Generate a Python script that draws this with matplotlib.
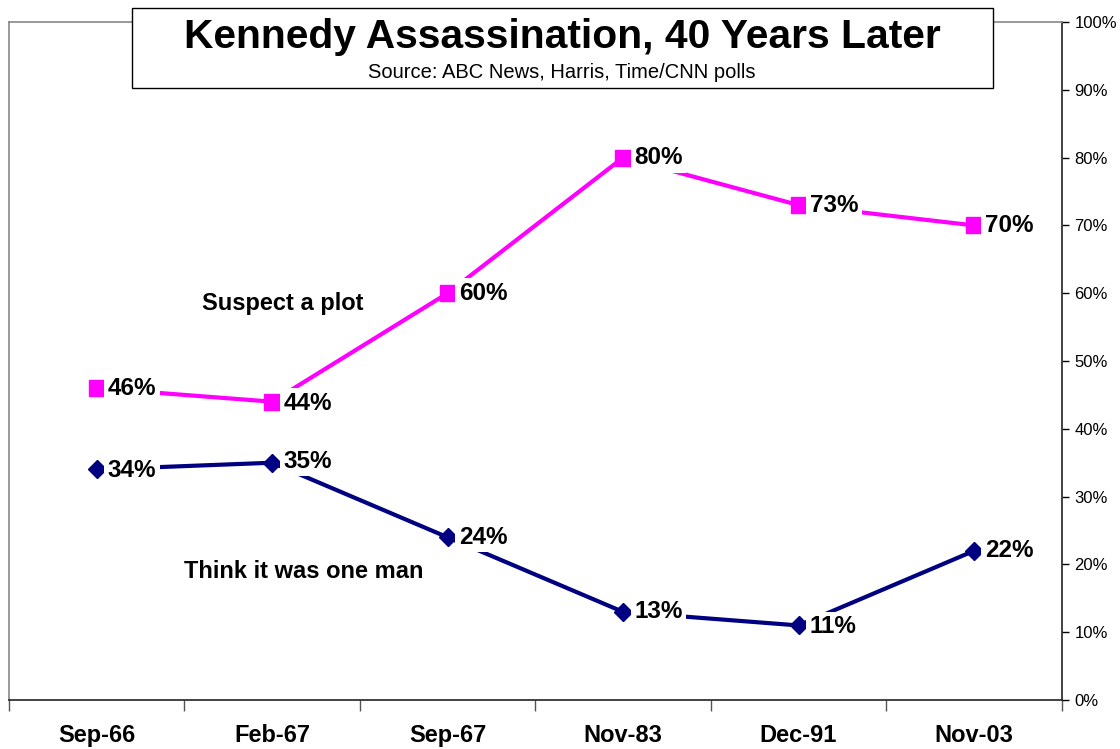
import matplotlib.pyplot as plt
from matplotlib.patches import Rectangle
import numpy as np

plt.rcParams['font.family'] = ['Liberation Sans', 'DejaVu Sans']

dates = ["Sep-66", "Feb-67", "Sep-67", "Nov-83", "Dec-91", "Nov-03"]
plot_pct = [46, 44, 60, 80, 73, 70]
one_man_pct = [34, 35, 24, 13, 11, 22]

pink = "#FF00FF"
navy = "#000080"

fig = plt.figure(figsize=(11.2, 7.49), dpi=100)
ax = fig.add_axes([0.008, 0.0654, 0.940, 0.9052])

x = np.arange(len(dates))
ax.plot(x, plot_pct, color=pink, lw=3, marker="s", ms=11, zorder=3)
ax.plot(x, one_man_pct, color=navy, lw=3, marker="D", ms=9, zorder=3)

def label(xs, ys, dy_list):
    for xi, yi, dy in zip(xs, ys, dy_list):
        ax.annotate(f"{yi}%", (xi, yi), xytext=(8, dy), textcoords="offset points",
                    ha="left", va="center", fontsize=17.5, fontweight="bold",
                    bbox=dict(boxstyle="square,pad=0.15", fc="white", ec="none"),
                    zorder=4)

label(x, plot_pct, [0, -1, 0, 0, 0, 0])
label(x, one_man_pct, [-1, 1, 0, 0, -1, 0])

ax.text(1.06, 58.5, "Suspect a plot", fontsize=17, fontweight="bold",
        ha="center", va="center")
ax.text(1.18, 19, "Think it was one man", fontsize=17, fontweight="bold",
        ha="center", va="center")

ax.set_xlim(-0.5, len(dates) - 0.5)
ax.set_ylim(0, 100)

ax.yaxis.tick_right()
ax.set_yticks(np.arange(0, 101, 10))
ax.set_yticklabels([f"{v}%" for v in range(0, 101, 10)], fontsize=12)
ax.tick_params(axis="y", direction="out", length=5, width=1, pad=4)

ax.set_xticks(x)
ax.set_xticklabels(dates, fontsize=17, fontweight="bold")
ax.tick_params(axis="x", which="major", length=0, pad=17)
ax.set_xticks(np.arange(-0.5, len(dates), 1), minor=True)
ax.tick_params(axis="x", which="minor", direction="out", length=8, width=1, color="#555555")

for s in ["left", "top"]:
    ax.spines[s].set_color("#888888")
    ax.spines[s].set_linewidth(1.2)
for s in ["right", "bottom"]:
    ax.spines[s].set_color("#222222")
    ax.spines[s].set_linewidth(1.2)

# title box
fig.patches.append(Rectangle((132 / 1120, 1 - 88 / 749), (993 - 132) / 1120, 80 / 749,
                             transform=fig.transFigure, fc="white", ec="black", lw=1, zorder=5))
fig.text(562 / 1120, 1 - 37 / 749, "Kennedy Assassination, 40 Years Later",
         fontsize=29.3, fontweight="bold", ha="center", va="center", zorder=6)
fig.text(562 / 1120, 1 - 72 / 749, "Source: ABC News, Harris, Time/CNN polls",
         fontsize=14.5, ha="center", va="center", zorder=6)

fig.savefig("out.png", dpi=100)
